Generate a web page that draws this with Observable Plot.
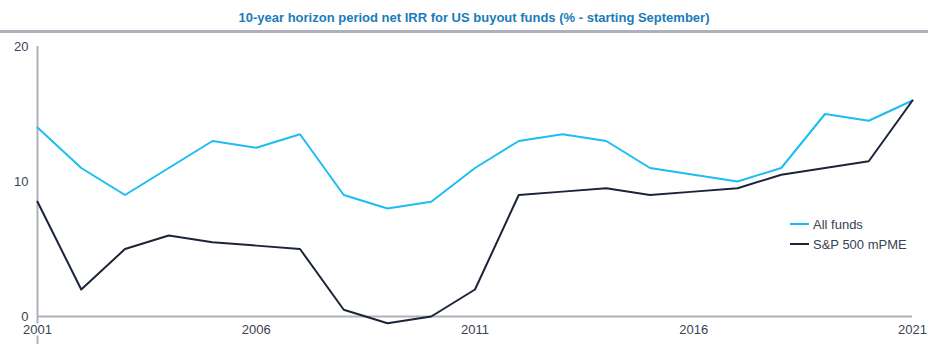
<!DOCTYPE html>
<html>
<head>
<meta charset="utf-8">
<script src="https://cdn.jsdelivr.net/npm/d3@7"></script>
<script src="https://cdn.jsdelivr.net/npm/@observablehq/plot@0.6"></script>
<style>
  html, body { margin: 0; padding: 0; background: #fff; }
  #wrap { position: relative; width: 928px; height: 349px; font-family: "Liberation Sans", Arial, sans-serif; }
  #title { height: 30px; line-height: 36px; text-align: center; font-weight: bold; font-size: 13px; color: #1a7cb9; padding-left: 20px; }
  #rule { height: 3px; background: #aeb1bb; }
  #legend { position: absolute; left: 790px; top: 214px; font-size: 13px; color: #3a4152; }
  .item { display: flex; align-items: center; height: 20px; }
  .sw { width: 19px; height: 2px; margin-right: 4px; }
</style>
</head>
<body>
<div id="wrap">
  <div id="title">10-year horizon period net IRR for US buyout funds (% - starting September)</div>
  <div id="rule"></div>
  <div id="chart"></div>
  <div id="legend"></div>
</div>
<script>
const years = [2001,2002,2003,2004,2005,2006,2007,2008,2009,2010,2011,2012,2013,2014,2015,2016,2017,2018,2019,2020,2021];
const allFunds = [14,11,9,11,13,12.5,13.5,9,8,8.5,11,13,13.5,13,11,10.5,10,11,15,14.5,16];
const spMPME = [8.5,2,5,6,5.5,5.25,5,0.5,-0.5,0,2,9,9.25,9.5,9,9.25,9.5,10.5,11,11.5,16];
const seriesNames = ["All funds", "S&P 500 mPME"];
const seriesColors = ["#1cbdf3", "#1b2439"];
const xTicks = [2001,2006,2011,2016,2021];
const yTicks = [0,10,20];

const data = [];
years.forEach((yr, i) => {
  data.push({year: yr, value: allFunds[i], series: seriesNames[0]});
  data.push({year: yr, value: spMPME[i], series: seriesNames[1]});
});

const axisColor = "#aeb1bb";
const textColor = "#3a4152";

const chart = Plot.plot({
  width: 928,
  height: 316,
  marginTop: 13,
  marginBottom: 33,
  marginLeft: 37,
  marginRight: 16,
  style: {fontFamily: "'Liberation Sans', Arial, sans-serif", fontSize: "13px", color: textColor, background: "transparent"},
  x: {domain: [years[0], years[years.length - 1]], axis: null},
  y: {domain: [yTicks[0], yTicks[yTicks.length - 1]]},
  color: {domain: seriesNames, range: seriesColors},
  marks: [
    Plot.ruleY([0], {stroke: axisColor, strokeWidth: 2}),
    Plot.ruleX([years[0]], {y1: yTicks[yTicks.length - 1], y2: 0, insetBottom: -28, stroke: axisColor, strokeWidth: 2}),
    Plot.line(data, {x: "year", y: "value", z: "series", stroke: "series", strokeWidth: 2}),
    Plot.text(xTicks, {x: d => d, y: 0, dy: 13, text: d => String(d), fill: textColor, stroke: "white", strokeWidth: 5, fontSize: 13}),
    Plot.axisY({ticks: yTicks, tickSize: 0, tickPadding: 9, fontSize: 13, label: null, color: textColor}),
  ]
});
document.getElementById("chart").appendChild(chart);

const legend = document.getElementById("legend");
seriesNames.forEach((name, i) => {
  const item = document.createElement("div");
  item.className = "item";
  const sw = document.createElement("span");
  sw.className = "sw";
  sw.style.background = seriesColors[i];
  const label = document.createElement("span");
  label.textContent = name;
  item.appendChild(sw);
  item.appendChild(label);
  legend.appendChild(item);
});
</script>
</body>
</html>
